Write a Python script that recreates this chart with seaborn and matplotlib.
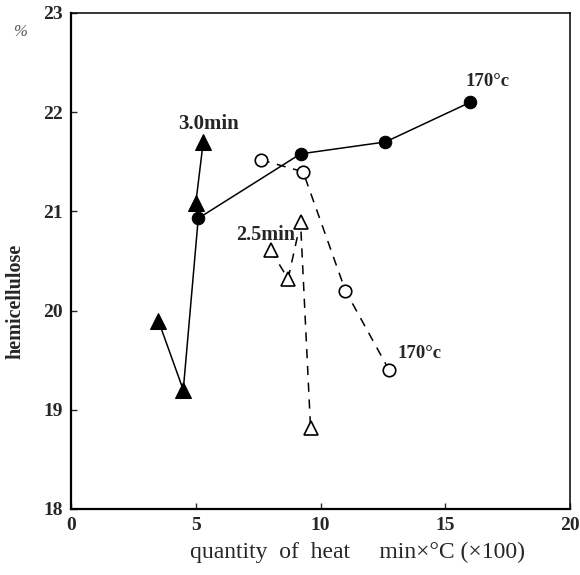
import matplotlib
matplotlib.use("Agg")
import matplotlib.pyplot as plt
import pandas as pd
import seaborn as sns

# 3.0 min series (filled triangles), passes through the shared 170 c point
tri_x = [3.5, 4.5, 5.1, 5.0, 5.3]
tri_y = [19.9, 19.2, 20.93, 21.08, 21.7]
tri_marks = [0, 1, 3, 4]

# 170 c series (filled circles)
circ_x = [5.1, 9.2, 12.6, 16.0]
circ_y = [20.93, 21.58, 21.7, 22.1]

# open circles, dashed
ocirc_x = [7.6, 9.3, 11.0, 12.75]
ocirc_y = [21.52, 21.4, 20.2, 19.4]

# 2.5 min series (open triangles), dashed
otri_x = [8.0, 8.7, 9.2, 9.6]
otri_y = [20.61, 20.32, 20.89, 18.82]

x_ticks = [0, 5, 10, 15, 20]
y_ticks = [18, 19, 20, 21, 22, 23]

sns.set_style("ticks")
plt.rcParams["font.family"] = ["Liberation Serif", "DejaVu Serif"]

fig = plt.figure(figsize=(5.8, 5.75), dpi=100)
ax = fig.add_axes([0.1224, 0.1148, 0.8604, 0.8626])

sns.lineplot(data=pd.DataFrame({"x": tri_x, "y": tri_y}), x="x", y="y", sort=False,
             ax=ax, color="black", lw=1.1, marker="^", markersize=11,
             markevery=tri_marks, markerfacecolor="black", markeredgecolor="black")
sns.lineplot(data=pd.DataFrame({"x": circ_x, "y": circ_y}), x="x", y="y", sort=False,
             ax=ax, color="black", lw=1.1, marker="o", markersize=9,
             markerfacecolor="black", markeredgecolor="black")
sns.lineplot(data=pd.DataFrame({"x": ocirc_x, "y": ocirc_y}), x="x", y="y", sort=False,
             ax=ax, color="black", lw=1.1, linestyle=(0, (6, 5)), marker="o",
             markersize=9, markerfacecolor="white", markeredgecolor="black",
             markeredgewidth=1.2)
sns.lineplot(data=pd.DataFrame({"x": otri_x, "y": otri_y}), x="x", y="y", sort=False,
             ax=ax, color="black", lw=1.1, linestyle=(0, (6, 5)), marker="^",
             markersize=10, markerfacecolor="white", markeredgecolor="black",
             markeredgewidth=1.2)

ax.text(4.28, 21.88, "3.0min", fontsize=15, fontweight="bold", va="center")
ax.text(6.6, 20.76, "2.5min", fontsize=14.5, fontweight="bold", va="center")
ax.text(15.8, 22.31, "170°c", fontsize=13.5, fontweight="bold", va="center")
ax.text(13.1, 19.57, "170°c", fontsize=13.5, fontweight="bold", va="center")

ax.set_xlim(0, 20)
ax.set_ylim(18, 23)
ax.set_xticks(x_ticks)
ax.set_yticks(y_ticks)
ax.tick_params(direction="in", length=4, width=1, labelsize=14, pad=6)
for lab in ax.get_xticklabels() + ax.get_yticklabels():
    lab.set_fontweight("bold")

for side in ["left", "bottom"]:
    ax.spines[side].set_linewidth(1.6)
for side in ["top", "right"]:
    ax.spines[side].set_linewidth(1.1)
    ax.spines[side].set_visible(True)
for sp in ax.spines.values():
    sp.set_color("black")

ax.set_xlabel("")
ax.set_ylabel("")
fig.text(0.617, 0.04, "quantity  of  heat     min×°C (×100)", fontsize=17,
         ha="center", va="center")
fig.text(0.026, 0.4765, "hemicellulose", fontsize=14.5, fontweight="bold",
         rotation=90, ha="center", va="center")
fig.text(0.034, 0.945, "%", fontsize=12, style="italic", color="#555555",
         ha="center", va="center")

fig.savefig("out.png", dpi=100)
